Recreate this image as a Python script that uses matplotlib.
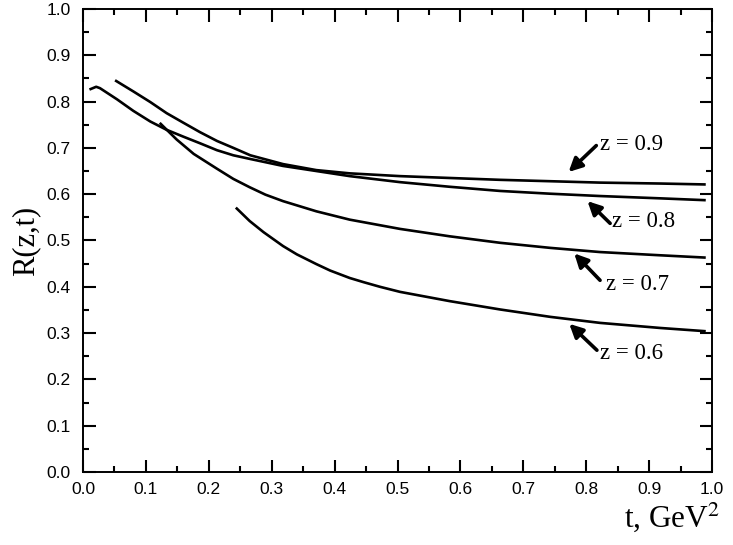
import matplotlib
matplotlib.use("Agg")
import matplotlib.pyplot as plt
from matplotlib.ticker import MultipleLocator

# Curves R(z,t)
t_09 = [0.051, 0.080, 0.107, 0.133, 0.160, 0.186, 0.213, 0.239, 0.266, 0.318, 0.371,
        0.424, 0.504, 0.583, 0.663, 0.743, 0.822, 0.918, 0.99]
R_09 = [0.846, 0.822, 0.799, 0.775, 0.754, 0.734, 0.715, 0.700, 0.684, 0.665, 0.652,
        0.645, 0.639, 0.635, 0.631, 0.628, 0.625, 0.623, 0.621]

t_08 = [0.0103, 0.021, 0.027, 0.054, 0.080, 0.107, 0.133, 0.160, 0.186, 0.213, 0.239,
        0.266, 0.318, 0.371, 0.424, 0.504, 0.583, 0.663, 0.743, 0.822, 0.918, 0.99]
R_08 = [0.826, 0.832, 0.829, 0.805, 0.780, 0.757, 0.739, 0.724, 0.710, 0.695, 0.684,
        0.676, 0.661, 0.650, 0.639, 0.626, 0.616, 0.607, 0.601, 0.596, 0.591, 0.587]

t_07 = [0.122, 0.149, 0.176, 0.213, 0.239, 0.265, 0.290, 0.318, 0.371, 0.424, 0.504,
        0.583, 0.663, 0.743, 0.822, 0.918, 0.99]
R_07 = [0.754, 0.718, 0.687, 0.655, 0.633, 0.615, 0.599, 0.585, 0.563, 0.545, 0.525,
        0.509, 0.495, 0.484, 0.475, 0.468, 0.463]

t_06 = [0.243, 0.265, 0.287, 0.318, 0.340, 0.371, 0.393, 0.424, 0.446, 0.472, 0.504,
        0.583, 0.663, 0.743, 0.822, 0.918, 0.99]
R_06 = [0.571, 0.542, 0.518, 0.488, 0.470, 0.449, 0.435, 0.419, 0.410, 0.400, 0.389,
        0.369, 0.351, 0.335, 0.322, 0.311, 0.304]

# labels: text, text position, arrow tail, arrow head
labels = ["z = 0.9", "z = 0.8", "z = 0.7", "z = 0.6"]
label_xy = [(0.822, 0.708), (0.841, 0.540), (0.832, 0.406), (0.822, 0.256)]
arrow_tail = [(0.816, 0.705), (0.838, 0.537), (0.822, 0.414), (0.817, 0.263)]
arrow_head = [(0.772, 0.648), (0.802, 0.585), (0.781, 0.472), (0.773, 0.320)]


def main():
    plt.rcParams["mathtext.fontset"] = "stix"
    fig = plt.figure(figsize=(7.33, 5.45), dpi=100)
    ax = fig.add_axes([0.1132, 0.134, 0.8582, 0.8495])

    for t, R in [(t_09, R_09), (t_08, R_08), (t_07, R_07), (t_06, R_06)]:
        ax.plot(t, R, color="black", lw=1.9, solid_capstyle="butt",
                solid_joinstyle="round")

    for txt, xy, tail, head in zip(labels, label_xy, arrow_tail, arrow_head):
        ax.annotate("", xy=head, xytext=tail,
                    arrowprops=dict(arrowstyle="-|>,head_length=0.8,head_width=0.4",
                                    color="black", lw=2.6, shrinkA=0, shrinkB=0))
        ax.text(xy[0], xy[1], txt, family="Liberation Serif", fontsize=16.5,
                ha="left", va="center")

    ax.set_xlim(0, 1.0)
    ax.set_ylim(0, 1.0)
    ax.xaxis.set_major_locator(MultipleLocator(0.1))
    ax.xaxis.set_minor_locator(MultipleLocator(0.05))
    ax.yaxis.set_major_locator(MultipleLocator(0.1))
    ax.yaxis.set_minor_locator(MultipleLocator(0.05))
    ax.xaxis.set_major_formatter(lambda v, p: f"{v:.1f}")
    ax.yaxis.set_major_formatter(lambda v, p: f"{v:.1f}")
    ax.tick_params(which="both", direction="in", top=True, right=True, width=1.5)
    ax.tick_params(which="major", length=9, labelsize=12.5)
    ax.tick_params(axis="y", which="major", pad=9)
    ax.tick_params(axis="x", which="major", pad=7)
    ax.tick_params(which="minor", length=4.5)
    for lab in ax.get_xticklabels() + ax.get_yticklabels():
        lab.set_family("Liberation Sans")
    for s in ax.spines.values():
        s.set_linewidth(1.4)

    ax.set_ylabel("R(z,t)", family="Liberation Serif", fontsize=22, labelpad=4)
    fig.text(0.983, 0.033, "t, GeV$^{2}$", family="Liberation Serif", fontsize=22.5,
             ha="right", va="baseline")

    fig.savefig("out.png", dpi=100)


if __name__ == "__main__":
    main()
